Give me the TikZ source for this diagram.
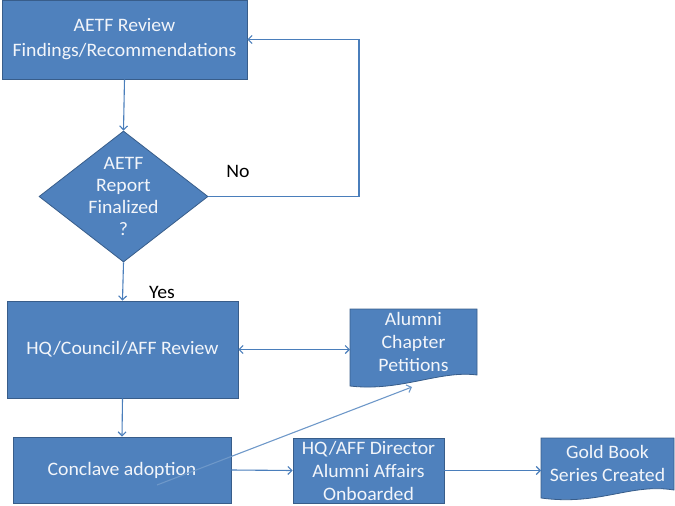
\documentclass[tikz,border=0pt]{standalone}
\usepackage{fontspec}
\setmainfont{Carlito}[FakeStretch=1.04]
\usetikzlibrary{shapes.geometric,arrows.meta}
\definecolor{boxfill}{HTML}{4F81BD}
\definecolor{boxline}{HTML}{385D8A}
\definecolor{arrowc}{HTML}{4A7EBB}
\definecolor{txtc}{HTML}{F2F5FA}
\begin{document}
\begin{tikzpicture}[x=1pt,y=-1pt,
  fnt/.style={font=\fontsize{19}{23}\selectfont},
  box/.style={draw=boxline, line width=0.8pt, fill=boxfill, text=txtc, inner sep=0pt, align=center, fnt},
  txt/.style={text=txtc, align=center, inner sep=0pt, fnt},
  lbl/.style={text=black, inner sep=0pt, fnt},
  docshape/.style={draw=boxline, line width=0.8pt, fill=boxfill},
  conn/.style={draw=arrowc, line width=1.1pt, -{Straight Barb[length=4pt,width=8pt]}},
  dconn/.style={draw=arrowc, line width=1.1pt, {Straight Barb[length=4pt,width=8pt]}-{Straight Barb[length=4pt,width=8pt]}}
]
\useasboundingbox (0,0) rectangle (675,506);

% boxes
\node[box, minimum width=245pt, minimum height=79pt, font=\fontsize{19}{25}\selectfont] (r1) at (124.5,39.5) {AETF Review\\Findings/Recommendations};
\node[diamond, draw=boxline, line width=0.8pt, fill=boxfill, minimum width=169pt, minimum height=131pt, inner sep=0pt] (dia) at (123.5,196.5) {};
\node[txt, font=\fontsize{19}{22.3}\selectfont] (diat) at (dia.center) {AETF\\Report\\Finalized\\?};
\node[box, minimum width=231pt, minimum height=97pt] (r2) at (122.5,349.5) {HQ/Council/AFF Review};
\node[box, minimum width=218pt, minimum height=66pt] (r3) at (122,470) {Conclave adoption};
\node[box, minimum width=151pt, minimum height=65pt] (r4) at (368.5,470.5) {HQ/AFF Director\\Alumni Affairs\\Onboarded};

% documents
\filldraw[docshape] (350,309) -- (477,309) -- (477,375) .. controls (440,370) and (400,392) .. (350,386) -- cycle;
\node[txt] (acp) at (413.5,342) {Alumni\\Chapter\\Petitions};
\filldraw[docshape] (541,438) -- (674,438) -- (674,490) .. controls (630,483) and (600,506) .. (541,498) -- cycle;
\node[txt] (gb) at (607.5,463.5) {Gold Book\\Series Created};

% labels
\node[lbl] (no) at (238,171) {No};
\node[lbl] (yes) at (162,292) {Yes};

% coordinates
\coordinate (loopx) at (359,39.5);
\coordinate (acpl) at (350,349.5);
\coordinate (acpb) at (412,387);
\coordinate (diag) at (157,485);
\coordinate (gbl) at (541,470.5);

% connectors
\draw[conn] (r1.south) -- (dia.north);
\draw[conn] (dia.east) -| (loopx) -- (r1.east);
\draw[conn] (dia.south) -- (r2.north);
\draw[dconn] (r2.east) -- (acpl);
\draw[conn] (r2.south) -- (r3.north);
\draw[conn] (r3.east) -- (r4.west);
\draw[conn] (r4.east) -- (gbl);
\draw[conn, draw=arrowc!80!white] (diag) -- (acpb);
\end{tikzpicture}
\end{document}
